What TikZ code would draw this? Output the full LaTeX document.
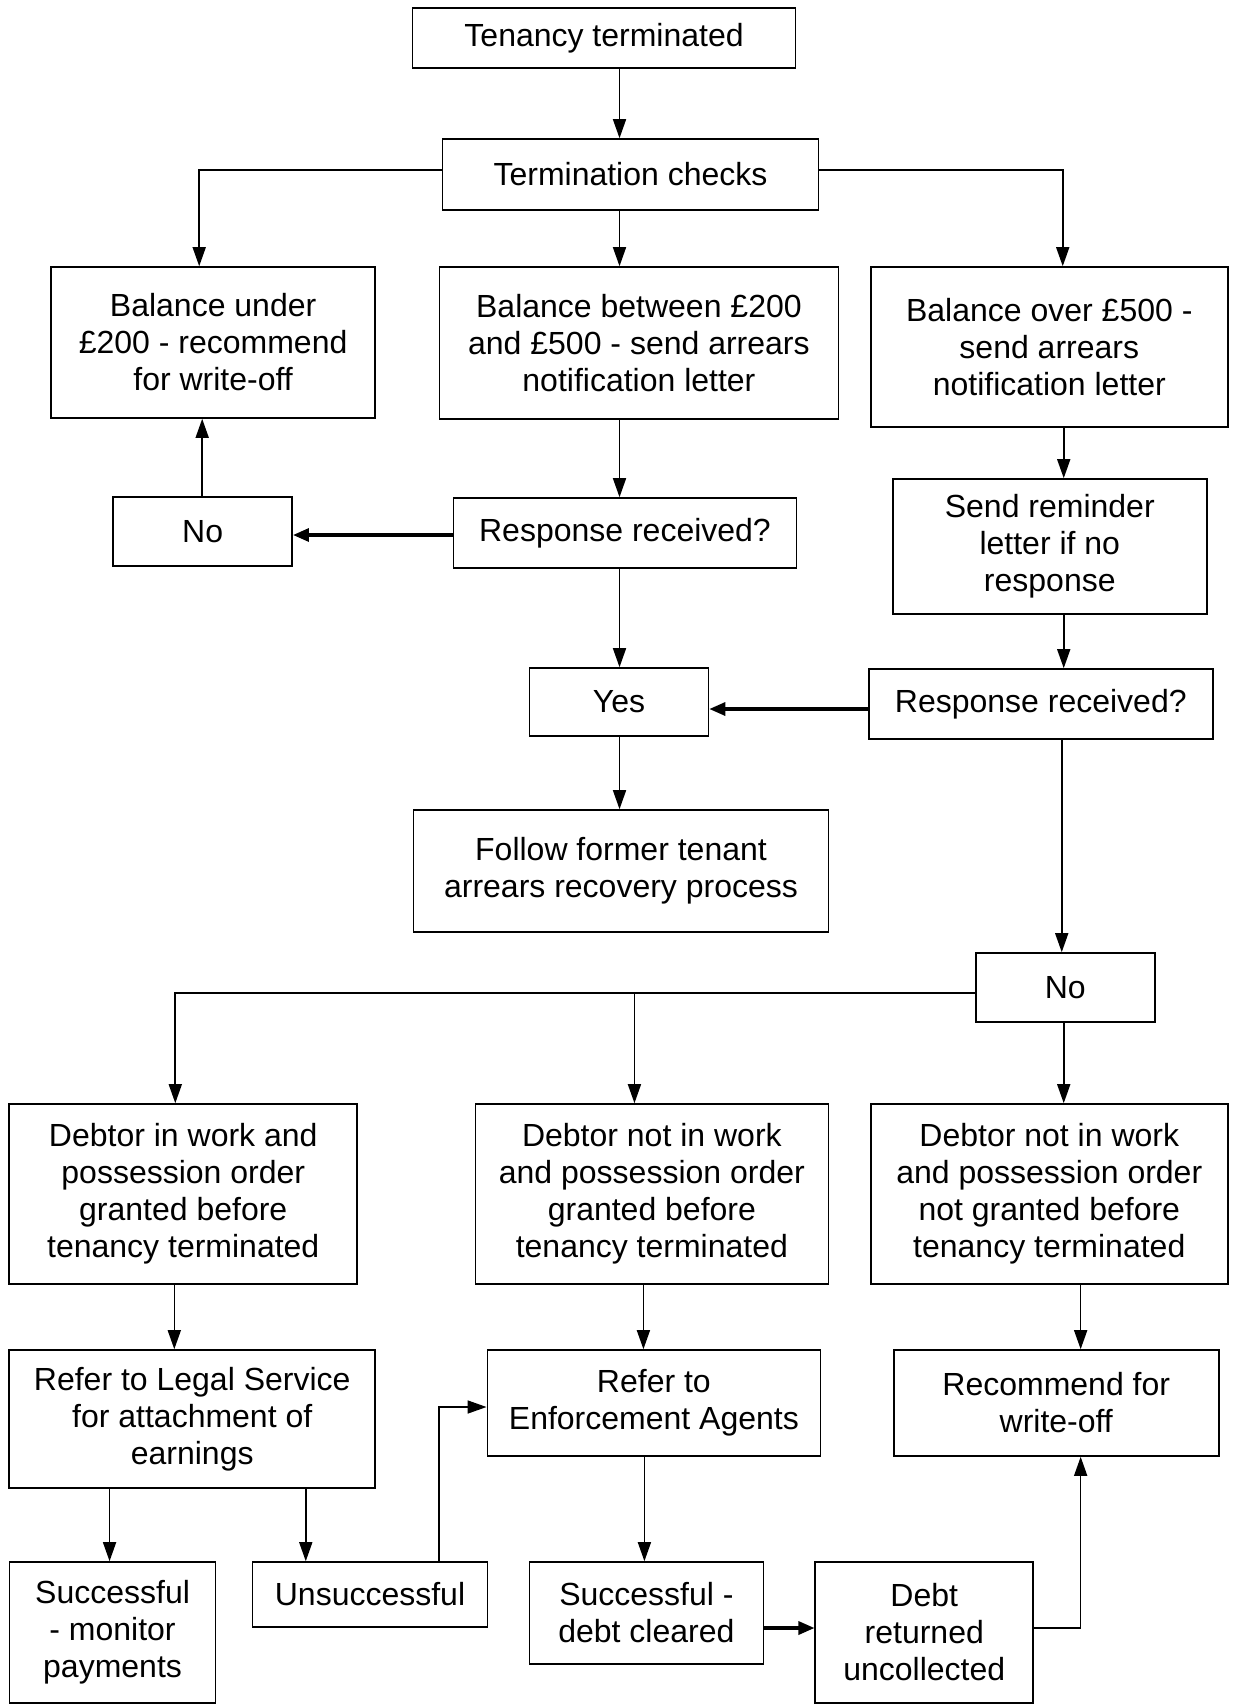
\documentclass[tikz,border=0pt]{standalone}
\usepackage{fontspec}
\setmainfont{Liberation Sans}
\usetikzlibrary{arrows.meta}
\begin{document}
\begin{tikzpicture}[x=0.498pt,y=-0.5pt,
  bx/.style={draw, line width=0.8pt, align=center, inner sep=0pt,
    font=\fontsize{16pt}{18.5pt}\selectfont},
  ar/.style={line width=0.8pt, -{Triangle[length=9.5pt,width=6.5pt]}},
  arb/.style={line width=1.6pt, -{Triangle[length=8pt,width=6.5pt]}}]
\useasboundingbox (0,0) rectangle (1239,1704);
\fill[white] (0,0) rectangle (1239,1704);

\node[bx, minimum width=191.5pt, minimum height=30pt] (t1) at (606.5,38) {Tenancy terminated};
\node[bx, minimum width=188pt, minimum height=35.5pt] (t2) at (633,174.5) {Termination checks};
\node[bx, minimum width=162pt, minimum height=75.5pt] (b1) at (214,342.5) {Balance under\\£200 - recommend\\for write-off};
\node[bx, minimum width=199.5pt, minimum height=76pt] (b2) at (641.5,343) {Balance between £200\\and £500 - send arrears\\notification letter};
\node[bx, minimum width=178.5pt, minimum height=80pt] (b3) at (1053.5,347) {Balance over £500 -\\send arrears\\notification letter};
\node[bx, minimum width=89.5pt, minimum height=34.5pt] (n1) at (203.5,531.5) {No};
\node[bx, minimum width=171.5pt, minimum height=35pt] (r1) at (627.5,533) {Response received?};
\node[bx, minimum width=157pt, minimum height=67.5pt] (s1) at (1054,546.5) {Send reminder\\letter if no\\response};
\node[bx, minimum width=172pt, minimum height=35pt] (r2) at (1045,704) {Response received?};
\node[bx, minimum width=89.5pt, minimum height=34pt] (y1) at (621.5,702) {Yes};
\node[bx, minimum width=207.5pt, minimum height=61pt] (f1) at (623.5,871) {Follow former tenant\\arrears recovery process};
\node[bx, minimum width=89.5pt, minimum height=34.5pt] (n2) at (1069.5,987.5) {No};
\node[bx, minimum width=174pt, minimum height=90pt] (d1) at (184,1194) {Debtor in work and\\possession order\\granted before\\tenancy terminated};
\node[bx, minimum width=176.5pt, minimum height=90pt] (d2) at (654.5,1194) {Debtor not in work\\and possession order\\granted before\\tenancy terminated};
\node[bx, minimum width=178.5pt, minimum height=90pt] (d3) at (1053.5,1194) {Debtor not in work\\and possession order\\not granted before\\tenancy terminated};
\node[bx, minimum width=183pt, minimum height=69pt] (l1) at (193,1419) {Refer to Legal Service\\for attachment of\\earnings};
\node[bx, minimum width=166.5pt, minimum height=53pt] (e1) at (656.5,1403) {Refer to\\Enforcement Agents};
\node[bx, minimum width=162.5pt, minimum height=53pt] (w1) at (1060.5,1403) {Recommend for\\write-off};
\node[bx, minimum width=103pt, minimum height=70.5pt] (sm) at (113,1632.5) {Successful\\- monitor\\payments};
\node[bx, minimum width=117.5pt, minimum height=32.5pt] (u1) at (371.5,1594.5) {Unsuccessful};
\node[bx, minimum width=117pt, minimum height=51pt] (sc) at (649,1613) {Successful -\\debt cleared};
\node[bx, minimum width=109pt, minimum height=70.5pt] (dr) at (928,1632.5) {Debt\\returned\\uncollected};

\draw[ar] (622,0 |- t1.south) -- (622,0 |- t2.north);
\draw[ar] (t2.west |- 0,170) -- (200,170) -- (200,0 |- b1.north);
\draw[ar] (622,0 |- t2.south) -- (622,0 |- b2.north);
\draw[ar] (t2.east |- 0,170) -- (1067,170) -- (1067,0 |- b3.north);
\draw[ar] (622,0 |- b2.south) -- (622,0 |- r1.north);
\draw[arb] (r1.west |- 0,535) -- (n1.east |- 0,535);
\draw[ar] (203,0 |- n1.north) -- (203,0 |- b1.south);
\draw[ar] (1068,0 |- b3.south) -- (1068,0 |- s1.north);
\draw[ar] (1068,0 |- s1.south) -- (1068,0 |- r2.north);
\draw[ar] (622,0 |- r1.south) -- (622,0 |- y1.north);
\draw[arb] (r2.west |- 0,709) -- (y1.east |- 0,709);
\draw[ar] (622,0 |- y1.south) -- (622,0 |- f1.north);
\draw[ar] (1066,0 |- r2.south) -- (1066,0 |- n2.north);
\draw[ar] (n2.west |- 0,993) -- (176,993) -- (176,0 |- d1.north);
\draw[ar] (637,993) -- (637,0 |- d2.north);
\draw[ar] (1068,0 |- n2.south) -- (1068,0 |- d3.north);
\draw[ar] (175,0 |- d1.south) -- (175,0 |- l1.north);
\draw[ar] (646,0 |- d2.south) -- (646,0 |- e1.north);
\draw[ar] (1085,0 |- d3.south) -- (1085,0 |- w1.north);
\draw[ar] (110,0 |- l1.south) -- (110,0 |- sm.north);
\draw[ar] (307,0 |- l1.south) -- (307,0 |- u1.north);
\draw[ar] (441,0 |- u1.north) -- (441,1407) -- (e1.west |- 0,1407);
\draw[ar] (647,0 |- e1.south) -- (647,0 |- sc.north);
\draw[arb] (sc.east |- 0,1628) -- (dr.west |- 0,1628);
\draw[ar] (dr.east |- 0,1628) -- (1085,1628) -- (1085,0 |- w1.south);
\end{tikzpicture}
\end{document}
